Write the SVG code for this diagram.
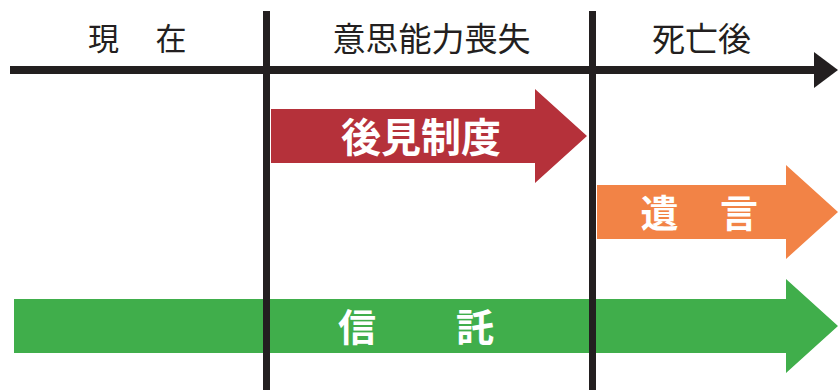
<svg xmlns="http://www.w3.org/2000/svg" width="838" height="390" viewBox="0 0 838 390">
<style>
.hdr{font-family:"Noto Sans CJK JP","Noto Sans",sans-serif;font-weight:400;fill:#231F20;text-anchor:middle}
.lbl{font-family:"Noto Sans CJK JP","Noto Sans",sans-serif;font-weight:700;fill:#FFFFFF;text-anchor:middle}
.ln{stroke:#231F20;fill:none}
</style>
<rect width="838" height="390" fill="#FFFFFF"/>
<g id="arrow-kouken">
<polygon points="271,109 535,109 535,89 587,136 535,183 535,163 271,163" fill="#B5313A"/>
<text class="lbl" x="421" y="151.5" font-size="40">後見制度</text>
</g>
<g id="arrow-yuigon">
<polygon points="597,185 786,185 786,165 838,212 786,259 786,239 597,239" fill="#F28346"/>
<text class="lbl" x="659.5" y="227" font-size="38">遺</text>
<text class="lbl" x="739" y="227" font-size="38">言</text>
</g>
<g id="arrow-shintaku">
<polygon points="14,299 786,299 786,279 838,326 786,373 786,353 14,353" fill="#40AE4B"/>
<text class="lbl" x="357" y="341" font-size="38">信</text>
<text class="lbl" x="475" y="341" font-size="38">託</text>
</g>
<g id="connectors">
<line class="ln" x1="10" y1="70" x2="815" y2="70" stroke-width="8"/>
<polygon points="814,52 838,70 814,88" fill="#231F20"/>
<line class="ln" x1="266.5" y1="11" x2="266.5" y2="390" stroke-width="7"/>
<line class="ln" x1="592.5" y1="11" x2="592.5" y2="390" stroke-width="7"/>
</g>
<g id="label-genzai">
<text class="hdr" x="103.5" y="49.5" font-size="31">現</text>
<text class="hdr" x="171" y="49.5" font-size="31">在</text>
</g>
<g id="label-ishinouryoku">
<text class="hdr" x="431.5" y="50.5" font-size="33">意思能力喪失</text>
</g>
<g id="label-shibougo">
<text class="hdr" x="701.5" y="50.5" font-size="33">死亡後</text>
</g>
</svg>
